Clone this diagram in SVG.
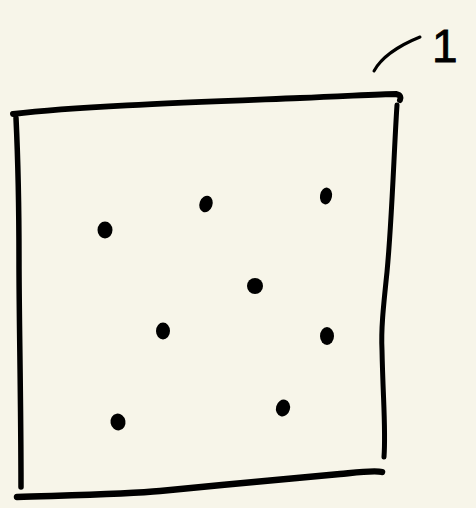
<svg xmlns="http://www.w3.org/2000/svg" width="476" height="508" viewBox="0 0 476 508">
<style>
.s{fill:none;stroke:#000;stroke-linecap:round;stroke-linejoin:round}
.d{fill:#000}
.t{font-family:"Liberation Sans",Arial,sans-serif;fill:#000;stroke:#000;stroke-width:0.8}
</style>
<rect width="476" height="508" fill="#f7f5e9"/>
<g id="square">
<path class="s" stroke-width="6" d="M13,114 C80,106 200,102 300,98 C350,96 380,94 396,94 C401,95 401,98 400,100"/>
<path class="s" stroke-width="5" d="M397,105 C394,150 392,220 387,272 C383,310 381,330 382,350 C383,400 386,430 384,457"/>
<path class="s" stroke-width="5.5" d="M16,118 C18,160 19,210 19,260 C19,320 21,400 21,487"/>
<path class="s" stroke-width="6.5" d="M17,497 C80,495 130,494 160,491 C220,485 300,478 340,474 C360,472 375,470 382,472"/>
</g>
<g id="dots">
<ellipse class="d" cx="105" cy="230" rx="7.5" ry="8.5"/>
<ellipse class="d" cx="206" cy="204" rx="6.5" ry="8.5" transform="rotate(20 206 204)"/>
<ellipse class="d" cx="326" cy="196" rx="6" ry="8.5" transform="rotate(10 326 196)"/>
<ellipse class="d" cx="255" cy="286" rx="8" ry="8"/>
<ellipse class="d" cx="163" cy="331" rx="7" ry="8.5"/>
<ellipse class="d" cx="327" cy="336" rx="7" ry="9"/>
<ellipse class="d" cx="118" cy="422" rx="7.5" ry="8.5" transform="rotate(-10 118 422)"/>
<ellipse class="d" cx="283" cy="408" rx="7" ry="8.5" transform="rotate(15 283 408)"/>
</g>
<g id="label">
<path class="s" stroke-width="3" d="M374,71 C380,60 395,47 420,37"/>
<text class="t" x="432" y="62" font-size="46">1</text>
</g>
</svg>
